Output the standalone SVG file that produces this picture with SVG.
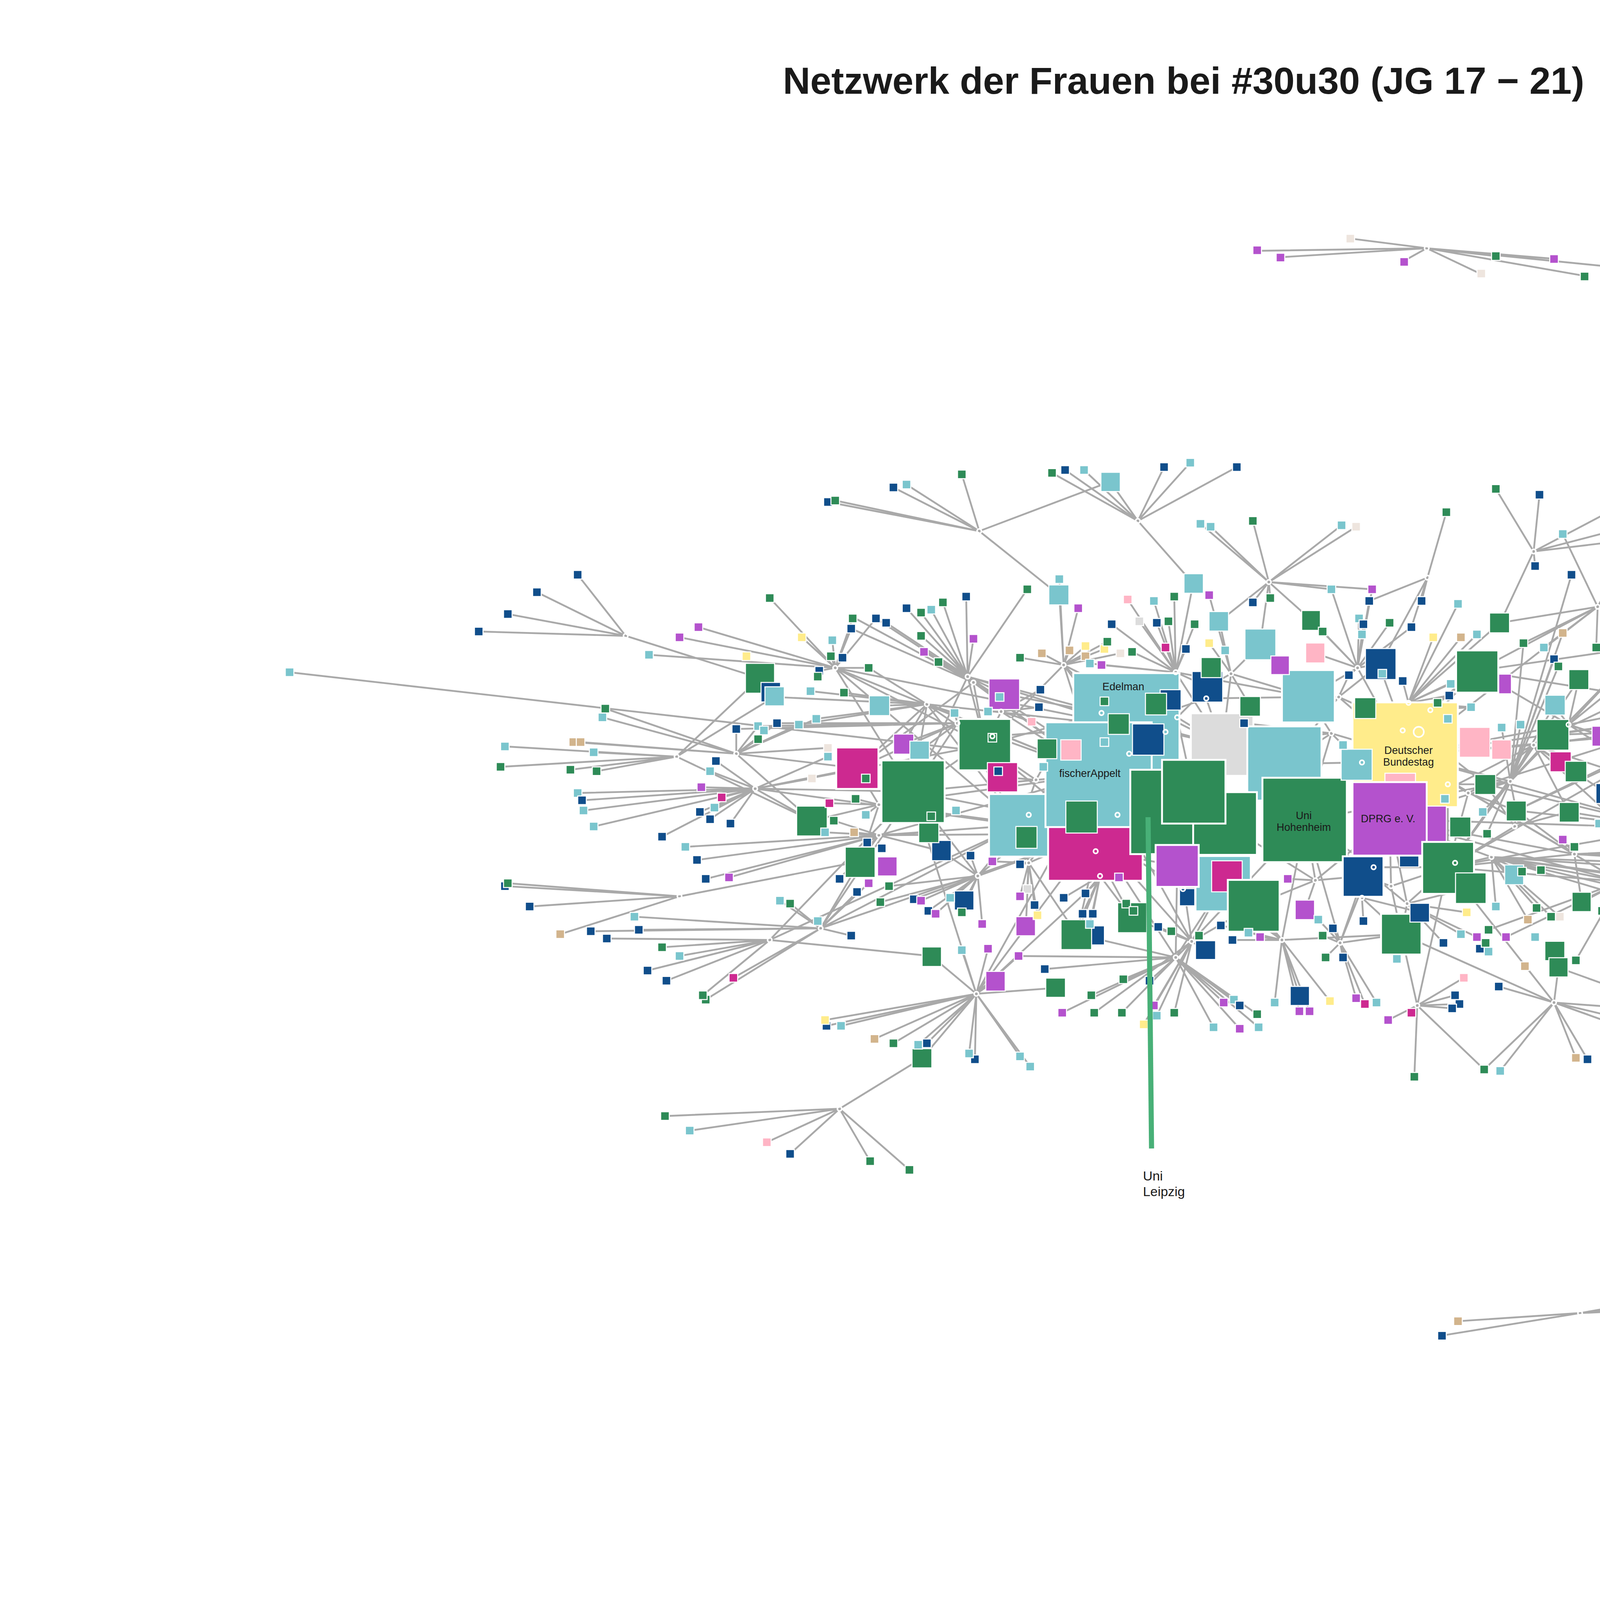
<svg xmlns="http://www.w3.org/2000/svg" xmlns:xlink="http://www.w3.org/1999/xlink" width="5841" height="4132" viewBox="0 0 5841 4132">
<style>
.g{fill:#2E8B57}.t{fill:#7AC5CD}.n{fill:#104E8B}.m{fill:#CD2990}.p{fill:#B452CD}.y{fill:#FFEC8B}.k{fill:#FFB5C5}.r{fill:#DCDCDC}.b{fill:#D2B48C}.s{fill:#EEE5DE}
rect{stroke:#fff;stroke-width:.7}
.L{stroke-width:1.3}
circle{fill:none;stroke:#fff;stroke-width:1.1}
#edges path{fill:none;stroke:#A9A9A9;stroke-width:1.25;stroke-linejoin:round}
text{font-family:"Liberation Sans",Arial,Helvetica,sans-serif;fill:#1A1A1A}
.lb{font-size:7.3px;text-anchor:middle}
</style>
<defs>
<rect id="q" x="-2.95" y="-2.95" width="5.9" height="5.9"/>
<circle id="c" r="1.5"/>
</defs>
<rect width="5841" height="4132" fill="#fff" stroke="none"/>
<text id="title" x="3030" y="240" font-size="97" font-weight="bold" text-anchor="middle">Netzwerk der Frauen bei #30u30 (JG 17 − 21)</text>
<g transform="scale(3.725)">
<g id="edges">
<path d="M980.5 170.6L927.7 163.9 980.5 170.6 863.8 172.4 980.5 170.6 879.5 176.8 980.5 170.6 964.5 179.5 980.5 170.6 1018 188.4 980.5 170.6 1027.8 176 980.5 170.6 1068.3 177.9 980.5 170.6 1089 189.6 980.5 170.6 1114.7 184.1"/>
<path d="M1085.9 902.4L1002.1 908 1085.9 902.4 990.5 917.9 1085.9 902.4 1148.3 894.6 1085.9 902.4 1151.9 899.3 1085.9 902.4 1195.2 883.4"/>
<path d="M430 437L397 395 430 437 369 407 430 437 349 422 430 437 329 434 430 437 522 466"/>
<path d="M574 459L529 411 574 459 551 438 574 459 480 431 574 459 467 438 574 459 446 450 574 459 572 440 574 459 585 432 574 459 586 425 574 459 571 451 574 459 579 452 574 459 563 461 574 459 602 425 574 459 677 512 574 459 627 544 574 459 755 532 574 459 774 499 574 459 597 459 574 459 701 567"/>
<path d="M465 520L347 513 465 520 408 517 465 520 344 527 465 520 392 529 465 520 410 530 465 520 522 466 465 520 532 479 465 520 558 564"/>
<path d="M506 518L416 487 506 518 414 493 506 518 394 510 506 518 399 510 506 518 506 501 506 518 521 499 506 518 589 528 506 518 558 564 506 518 569 514 506 518 549 498 506 518 561 494 506 518 521 508 506 518 534 497"/>
<path d="M519 542L482 541 519 542 496 548 519 542 491 555 519 542 481 558 519 542 488 563 519 542 502 566 519 542 397 545 519 542 400 550 519 542 401 557 519 542 408 568 519 542 492 523 519 542 488 530 519 542 558 535 519 542 589 528 519 542 558 564 519 542 627 544 519 542 455 575 519 542 569 520 519 542 677 512 519 542 701 567"/>
<path d="M199 462L690 518"/>
<path d="M604 553L558 564 604 553 588 549 604 553 570 552 604 553 627 544 604 553 589 528 604 553 701 567 604 553 591 592 604 553 595 560 604 553 755 532 604 553 753 573"/>
<path d="M604 574L573 564 604 574 567 572 604 574 587 572 604 574 591 592 604 574 638 572 604 574 647 585 604 574 701 567 604 574 471 582 604 574 479 591 604 574 485 604 604 574 501 603 604 574 596 579 604 574 577 604 604 574 753 573 604 574 755 532"/>
<path d="M467 616L349 607 467 616 347 609 467 616 364 623 467 616 385 642 467 616 591 592"/>
<path d="M564 638L436 630 564 638 439 639 564 638 406 640 564 638 504 672 564 638 485 687 564 638 591 592 564 638 589 613 564 638 562 633 564 638 585 643 564 638 627 544 564 638 543 621 564 638 536 619 564 638 597 607 564 638 701 567 564 638 753 573"/>
<path d="M529 646L417 645 529 646 455 651 529 646 467 657 529 646 445 667 529 646 458 674 529 646 483 684 529 646 627 544 529 646 640 657 529 646 701 567"/>
<path d="M577 762L457 767 577 762 474 777 577 762 527 785 577 762 543 793 577 762 598 798 577 762 625 804 577 762 634 727"/>
<path d="M671 683L640 657 671 683 684 674 671 683 725 679 671 683 701 726 671 683 708 733 671 683 670 728 671 683 666 724 671 683 637 717 671 683 631 718 671 683 614 717 671 683 634 727 671 683 661 653 671 683 679 652 671 683 755 532 671 683 627 544 671 683 567 701 671 683 578 705 671 683 601 714 671 683 568 705 671 683 700 657 671 683 753 573 671 683 806 558"/>
<path d="M672 602L663 619 672 602 661 627 672 602 653 617 672 602 638 626 672 602 628 618 672 602 611 609 672 602 675 635 672 602 701 567 672 602 753 573 672 602 627 544 672 602 647 585 672 602 667 588 672 602 633 619 672 602 643 628 672 602 605 620 672 602 755 532"/>
<path d="M707 593L701 594 707 593 706 611 707 593 701 616 707 593 711 622 707 593 713 629 707 593 682 592 707 593 701 567 707 593 753 573 707 593 755 532 707 593 740 642 707 593 705 637"/>
<path d="M756 602L731 617 756 602 746 614 756 602 744 628 756 602 751 628 756 602 749 635 756 602 753 573 756 602 740 642 756 602 778 631 756 602 806 558"/>
<path d="M819 647L805 640 819 647 796 637 819 647 824 643 819 647 828 653 819 647 793 691 819 647 795 698 819 647 786 704 819 647 807 696 819 647 771 696 819 647 752 696 819 647 755 532 819 647 806 558 819 647 841 607 819 647 862 622 819 647 753 573 819 647 778 631 819 647 897 564"/>
<path d="M808 658L730 696 808 658 750 684 808 658 718 666 808 658 700 657 808 658 772 673 808 658 790 674 808 658 834 706 808 658 852 707 808 658 865 706 808 658 864 697 808 658 848 687 808 658 852 691 808 658 841 689 808 658 753 573 808 658 809 595 808 658 841 607 808 658 740 642"/>
<path d="M881 646L893 684 881 646 876 689 881 646 893 695 881 646 900 695 881 646 914 688 881 646 839 636 881 646 847 646 881 646 866 644 881 646 858 641 881 646 862 622 881 646 897 564 881 646 963 642 881 646 841 607 881 646 809 595"/>
<path d="M921 648L932 686 921 648 938 690 921 648 946 689 921 648 911 658 921 648 923 658 921 648 916 638 921 648 909 643 921 648 906 632 921 648 937 602 921 648 897 564 921 648 963 642 921 648 955 563"/>
<path d="M904 605L885 604 904 605 897 625 904 605 897 564 904 605 937 602 904 605 862 622 904 605 955 563 904 605 842 566"/>
<path d="M936 617L937 633 936 617 937 602 936 617 963 642 936 617 955 563 936 617 976 627"/>
<path d="M967 621L976 627 967 621 963 642 967 621 995 596 967 621 1011 610 967 621 992 648 967 621 1004 642 967 621 1015 644 967 621 1008 627 967 621 960 659 967 621 955 563 967 621 897 564"/>
<path d="M974 691L954 701 974 691 970 696 974 691 972 740 974 691 1000 684 974 691 1003 690 974 691 998 693 974 691 963 642 974 691 1006 672 974 691 1020 735 974 691 995 596"/>
<path d="M1068 689L1083 727 1068 689 1091 728 1068 689 1138 714 1068 689 1143 716 1068 689 1156 710 1068 689 1031 736 1068 689 1020 735 1068 689 1030 678 1068 689 1071 665 1068 689 1189 698 1068 689 995 596 1068 689 963 642"/>
<path d="M1160 697L1189 698 1160 697 1252 713 1160 697 1200 730 1160 697 1146 747 1160 697 1071 665 1160 697 1156 710"/>
<path d="M1317 626L1424 607 1317 626 1409 625 1317 626 1399 635 1317 626 1383 650 1317 626 1366 662 1317 626 1206 617"/>
<path d="M1114 606L1122 594 1114 606 1118 598 1114 606 1113 622 1114 606 1107 635 1114 606 1087 620 1114 606 1131 610 1114 606 1140 612 1114 606 1206 617 1114 606 995 596 1114 606 1131 626 1114 606 1101 626 1114 606 1083 660 1114 606 1023 639 1114 606 1035 644 1114 606 955 563 1114 606 966 519"/>
<path d="M1082 587L1074 577 1082 587 1082 582 1082 587 1124 589 1082 587 1211 584 1082 587 1245 579 1082 587 1254 589 1082 587 1238 593 1082 587 1211 595 1082 587 1087 620 1082 587 995 596 1082 587 1042 557 1082 587 966 519 1082 587 955 563"/>
<path d="M1025 589L1201 601 1025 589 1191 611 1025 589 1231 628 1025 589 1211 633 1025 589 1204 642 1025 589 1241 597 1025 589 1235 619 1025 589 1046 599 1025 589 1059 598 1025 589 995 596 1025 589 955 563 1025 589 1028 623 1025 589 1056 624 1025 589 1050 632 1025 589 1066 630 1025 589 1072 630"/>
<path d="M1147 569L1258 554 1147 569 1258 562 1147 569 1265 570 1147 569 1255 574 1147 569 1221 575 1147 569 1245 579 1147 569 1143 567 1147 569 1138 572 1147 569 1138 557 1147 569 1121 557 1147 569 1127 555 1147 569 1042 557 1147 569 1078 558 1147 569 995 596 1147 569 1099 566 1147 569 1116 569 1147 569 1117 551 1147 569 1162 540 1147 569 1149 544 1147 569 1162 550 1147 569 1156 550 1147 569 966 519 1147 569 955 563 1147 569 1021 539"/>
<path d="M1183 488L1288 471 1183 488 1282 474 1183 488 1281 486 1183 488 1295 491 1183 488 1292 499 1183 488 1298 500 1183 488 1302 505 1183 488 1303 513 1183 488 1300 521 1183 488 1210 483 1183 488 1197 479 1183 488 1187 475 1183 488 1146 475 1183 488 1144 485 1183 488 1164 481 1183 488 1127 475 1183 488 1218 496 1183 488 1173 460 1183 488 1252 450 1183 488 1269 461 1183 488 1067 505 1183 488 1101 506 1183 488 1015 461 1183 488 966 519 1183 488 1120 464 1183 488 1042 557 1183 488 1021 539"/>
<path d="M1160 502L1187 511 1160 502 1178 498 1160 502 1179 503 1160 502 1221 544 1160 502 1184 530 1160 502 1067 505 1160 502 1101 506 1160 502 1132 512 1160 502 966 519 1160 502 1111 519 1160 502 1146 521 1160 502 1135 528 1160 502 1145 532 1160 502 1164 528 1160 502 1194 524 1160 502 995 596 1160 502 1042 557"/>
<path d="M1222 431L1248 389 1222 431 1278 401 1222 431 1283 403 1222 431 1304 415 1222 431 1311 412 1222 431 1334 435 1222 431 1340 434 1222 431 1234 442 1222 431 1240 463 1222 431 1122 451 1222 431 1067 505 1222 431 1015 461"/>
<path d="M1098 417L1120 377 1098 417 1138 381 1098 417 1156 386 1098 417 1175 393 1098 417 1192 398 1098 417 1216 413 1098 417 1074 367 1098 417 1031 428 1098 417 1015 461 1098 417 1047 442 1098 417 1061 445 1098 417 1097 445 1098 417 966 519"/>
<path d="M1054 379L1028 336 1054 379 1058 340 1054 379 1113 348 1054 379 1146 355 1054 379 1171 365 1054 379 1031 428 1054 379 1055 389"/>
<path d="M1038 537L1080 395 1038 537 1021 539 1038 537 1042 557 1038 537 1067 505 1038 537 966 519 1038 537 995 596 1038 537 1047 442 1038 537 1074 435 1038 537 1122 451 1038 537 1068 453 1038 537 1071 458 1038 537 1085 467 1038 537 1068 485 1038 537 1032 500 1038 537 1045 498 1038 537 1019 558 1038 537 1022 573 1038 537 897 564 1038 537 955 563"/>
<path d="M1054 512L1067 505 1054 512 1072 524 1054 512 1083 530 1054 512 1101 506 1054 512 1021 539 1054 512 966 519 1054 512 1116 569 1054 512 1121 534 1054 512 1104 545 1054 512 1078 558 1054 512 955 563 1054 512 995 596"/>
<path d="M1078 498L1067 505 1078 498 1101 506 1078 498 1068 485 1078 498 1122 451 1078 498 1085 467 1078 498 1144 485 1078 498 1221 544 1078 498 1111 519 1078 498 1120 464 1078 498 966 519 1078 498 1015 461"/>
<path d="M673 365L614 335 673 365 623 333 673 365 661 326 673 365 574 344 673 365 569 345 673 365 763 331 673 365 728 409"/>
<path d="M782 358L723 325 782 358 732 323 782 358 745 323 782 358 763 331 782 358 800 321 782 358 818 318 782 358 850 321 782 358 820 401"/>
<path d="M872 400L825 360 872 400 832 362 872 400 861 358 872 400 922 361 872 400 932 362 872 400 901 426 872 400 861 414 872 400 873 411 872 400 838 427 872 400 866 443 872 400 915 405 872 400 943 405"/>
<path d="M981 397L994 352 981 397 977 413 981 397 949 456 981 397 941 413 981 397 970 431"/>
<path d="M665 465L664 410 665 465 648 414 665 465 640 419 665 465 623 418 665 465 633 421 665 465 609 428 665 465 633 437 665 465 635 448 665 465 645 455 665 465 669 439 665 465 677 512 665 465 690 477 665 465 774 499 665 465 755 532 665 465 627 544 665 465 706 405 665 465 806 558 665 465 840 512"/>
<path d="M669 469L602 425 669 469 586 424 669 469 585 432 669 469 677 512 669 469 755 532 669 469 589 528"/>
<path d="M731 457L716 449 731 457 735 447 731 457 746 444 731 457 759 446 731 457 746 451 731 457 701 452 731 457 728 398 731 457 741 418 731 457 770 449 731 457 761 441 731 457 774 499 731 457 755 532 731 457 677 512 731 457 728 409 731 457 806 558 731 457 840 512"/>
<path d="M808 462L775 412 808 462 793 413 808 462 807 410 808 462 783 427 808 462 795 428 808 462 803 427 808 462 764 429 808 462 821 429 808 462 801 445 808 462 815 446 808 462 778 448 808 462 749 456 808 462 757 457 808 462 774 499 808 462 830 472 808 462 840 512 808 462 789 508 808 462 820 401 808 462 806 558 808 462 899 479"/>
<path d="M846 463L831 409 846 463 831 442 846 463 842 447 846 463 838 427 846 463 830 472 846 463 840 512 846 463 899 479 846 463 859 485 846 463 866 443"/>
<path d="M920 479L899 479 920 479 949 456 920 479 938 487 920 479 966 519 920 479 883 525 920 479 927 464"/>
<path d="M933 459L915 405 933 459 943 405 933 459 941 413 933 459 934 425 933 459 937 429 933 459 936 436 933 459 955 428 933 459 970 431 933 459 927 464 933 459 949 456 933 459 966 519 933 459 899 479 933 459 904 449 933 459 909 434 933 459 901 426"/>
<path d="M968 483L985 438 968 483 1004 438 968 483 1002 415 968 483 1015 436 968 483 964 468 968 483 997 470 968 483 996 478 968 483 988 483 968 483 1011 486 968 483 1015 461 968 483 966 519 968 483 1031 428"/>
<path d="M915 504L883 525 915 504 899 479 915 504 923 512 915 504 966 519 915 504 840 512 915 504 897 564 915 504 855 497"/>
<path d="M637 484L604 485 637 484 656 490 637 484 580 476 637 484 557 475 637 484 561 494 637 484 549 498 637 484 627 544 637 484 677 512 637 484 589 528 637 484 532 479 637 484 597 459 637 484 621 511 637 484 755 532 637 484 774 499 637 484 701 567"/>
<path d="M688 489L679 489 688 489 709 496 688 489 715 474 688 489 714 486 688 489 677 512 688 489 690 477 688 489 755 532 688 489 687 479"/>
<path d="M658 497L627 544 658 497 677 512 658 497 589 528 658 497 621 511 658 497 534 497 658 497 521 499 658 497 506 501 658 497 632 516 658 497 656 490 658 497 755 532 658 497 753 573 658 497 701 567"/>
<path d="M757 490L774 499 757 490 755 532 757 490 677 512 757 490 701 567 757 490 690 477 757 490 759 482"/>
<path d="M809 493L774 499 809 493 755 532 809 493 840 512 809 493 820 544 809 493 830 472"/>
<path d="M801 503L774 499 801 503 806 558 801 503 789 508 801 503 840 512"/>
<path d="M776 518L755 532 776 518 774 499 776 518 806 558 776 518 753 573 776 518 759 510"/>
<path d="M768 560L755 532 768 560 753 573 768 560 806 558 768 560 701 567 768 560 809 595"/>
<path d="M712 536L701 567 712 536 755 532 712 536 677 512 712 536 689 534 712 536 627 544 712 536 717 527"/>
<path d="M707 560L701 567 707 560 755 532 707 560 627 544 707 560 753 573 707 560 743 561 707 560 705 575"/>
<path d="M753 585L753 573 753 585 809 595 753 585 778 631 753 585 740 642 753 585 701 567"/>
<path d="M829 480L830 472 829 480 774 499 829 480 840 512 829 480 899 479"/>
<path d="M964 502L966 519 964 502 955 563 964 502 1015 461 964 502 932 526 964 502 950 463"/>
<path d="M975 503L966 519 975 503 1015 461 975 503 1021 539 975 503 955 563"/>
<path d="M983 488L966 519 983 488 1015 461 983 488 1011 486 983 488 995 494"/>
<path d="M995 539L966 519 995 539 1021 539 995 539 995 596 995 539 955 563 995 539 993 549"/>
<path d="M936 524L932 526 936 524 966 519 936 524 883 525 936 524 955 563"/>
<path d="M944 596L937 602 944 596 955 563 944 596 897 564 944 596 995 596"/>
<path d="M1000 593L995 596 1000 593 955 563 1000 593 966 519 1000 593 1011 610"/>
<path d="M813 611L809 595 813 611 841 607 813 611 842 566 813 611 753 573"/>
<path d="M1009 545L1021 539 1009 545 1042 557 1009 545 966 519 1009 545 995 596"/>
<path d="M1041 568L1042 557 1041 568 1078 558 1041 568 995 596 1041 568 1021 539"/>
<path d="M956 609L937 602 956 609 963 642 956 609 955 563 956 609 995 596"/>
<path d="M682 506L677 512 682 506 627 544 682 506 774 499"/>
</g>
<g id="nodes">
<g id="o1"><rect class="r L" x="818.4" y="490.2" width="43" height="43"/></g>
<g id="o2"><rect class="t L" x="857.2" y="499.2" width="51" height="51"/></g>
<g id="edelman"><rect class="t L" x="737.6" y="462.6" width="73" height="73"/><text class="lb" x="772" y="474.5">Edelman</text></g>
<g id="o3"><rect class="t L" x="679.7" y="545.7" width="43" height="43"/></g>
<g id="o4"><rect class="n" x="731.4" y="566" width="14.5" height="14"/></g>
<g id="o5"><rect class="m L" x="720.3" y="540" width="65" height="65.3"/></g>
<g id="fischerappelt"><rect class="t L" x="718.5" y="496.4" width="73" height="72"/><text class="lb" x="749" y="534">fischerAppelt</text></g>
<g id="o6"><rect class="g L" x="776.8" y="529" width="58" height="58"/></g>
<g id="o7"><rect class="g L" x="820" y="544.4" width="43.8" height="43.1"/></g>
<g id="o8"><rect class="g L" x="798.6" y="522.2" width="43.6" height="43.8"/></g>
<g id="bundestag"><rect class="y L" x="929.5" y="482.7" width="72.4" height="72"/><text class="lb" x="968" y="518.1">Deutscher</text><text class="lb" x="968" y="526.3">Bundestag</text></g>
<g id="o9"><rect class="k" x="951.8" y="531.4" width="21" height="21"/></g>
<g id="o10"><rect class="p" x="966" y="554" width="28" height="28.7"/></g>
<g id="o11"><rect class="n" x="961.8" y="582" width="13.3" height="13.8"/></g>
<g id="hohenheim"><rect class="g L" x="867.6" y="534.5" width="58" height="58"/><text class="lb" x="896" y="563">Uni</text><text class="lb" x="896" y="571.1">Hohenheim</text></g>
<g id="dprg"><rect class="p L" x="929.5" y="537.5" width="51" height="50.5"/><text class="lb" x="954" y="565.2">DPRG e. V.</text></g>
<g id="o12"><rect class="t L" x="881" y="460.5" width="36.3" height="36"/></g>
<g id="o13"><rect class="g L" x="658.8" y="494.1" width="36" height="35.3"/></g>
<g id="o14"><rect class="g L" x="605.8" y="522.6" width="43.4" height="43"/></g>
<g id="o15"><rect class="t L" x="821.6" y="588.3" width="38" height="38"/></g>
<g id="o16"><rect class="p L" x="794.2" y="580.7" width="29.6" height="28.8"/></g>
<g id="o17"><rect class="m" x="832.7" y="591.6" width="21" height="21.3"/></g>
<g id="o18"><rect class="g L" x="843.8" y="604.7" width="35.6" height="35.6"/></g>
<g id="o19"><rect class="g L" x="977.4" y="578.6" width="35.6" height="35.7"/></g>
<g id="o20"><rect class="n L" x="922.8" y="588.5" width="28" height="27.8"/></g>
<g id="o21"><rect class="m L" x="574.7" y="513.7" width="29" height="28.5"/></g>
<g id="o22"><rect class="p" x="1025" y="463.3" width="13.7" height="13.5"/></g>
<g id="o23"><rect class="g L" x="1000.7" y="447" width="29" height="29"/></g>
<g id="o24"><rect class="g L" x="949.1" y="628" width="27.8" height="28"/></g>
<g id="o25"><rect class="k" x="1003" y="499.9" width="21" height="20.5"/></g>
<g id="o26"><rect class="k" x="1025.2" y="508.5" width="13.4" height="13.3"/></g>
<g id="o27"><rect class="n" x="819.3" y="461.5" width="21" height="21"/></g>
<g id="o28"><rect class="g" x="825.5" y="451.9" width="13.8" height="13.8"/></g>
<g id="o29"><rect class="n" x="938.4" y="445.7" width="21" height="21.3"/></g>
<g id="o30"><rect class="n" x="778.3" y="497.5" width="21.6" height="21.5"/></g>
<g id="o31"><rect class="p" x="679.7" y="466.6" width="21" height="21"/></g>
<g id="o32"><rect class="m" x="678.6" y="524.1" width="20.7" height="20.1"/></g>
<g id="o33"><rect class="g" x="732.5" y="550.5" width="21.6" height="22"/></g>
<g id="o34"><rect class="n" x="746" y="636.3" width="13" height="13.1"/></g>
<g id="o35"><rect class="g" x="729.2" y="632.1" width="21" height="20.5"/></g>
<g id="o36"><rect class="g" x="768.1" y="620.4" width="20" height="20.6"/></g>
<g id="o37"><rect class="g" x="1000.3" y="599.9" width="21" height="21"/></g>
<g id="o38"><rect class="g" x="547.5" y="554" width="21" height="20.5"/></g>
<g id="o39"><rect class="g" x="580.9" y="582.2" width="20.5" height="20.8"/></g>
<g id="o40"><rect class="g" x="512.3" y="455.9" width="20" height="20.5"/></g>
<g id="o41"><rect class="t" x="921.7" y="514.9" width="21.3" height="21.3"/></g>
<g id="o42"><rect class="t" x="855.6" y="432.3" width="21.2" height="21.1"/></g>
<g id="o43"><rect class="g" x="1111.9" y="440.2" width="21" height="21"/></g>
<g id="o44"><rect class="g" x="1056.3" y="494.5" width="21.9" height="21"/></g>
<g id="o45"><rect class="g" x="698.2" y="568" width="14.5" height="15"/></g>
<g id="m1"><rect class="t" x="720.8" y="402" width="13.8" height="13.7"/></g>
<g id="m2"><rect class="t" x="813.7" y="394.3" width="13.3" height="13.4"/></g>
<g id="m3"><rect class="t" x="756.6" y="324.6" width="13.3" height="13.2"/></g>
<g id="m4"><rect class="t" x="830.9" y="420.3" width="13.4" height="13.4"/></g>
<g id="m5"><rect class="g" x="894.6" y="419.6" width="12.8" height="13.6"/></g>
<g id="m6"><rect class="k" x="897.3" y="441.9" width="13.2" height="13.7"/></g>
<g id="m7"><rect class="p" x="873.4" y="450.8" width="12.7" height="12.8"/></g>
<g id="m8"><rect class="g" x="852.1" y="478.7" width="14.1" height="13.5"/></g>
<g id="m9"><rect class="g" x="931" y="479.5" width="14.5" height="14.3"/></g>
<g id="m10"><rect class="t" x="597.4" y="478.2" width="14" height="13.6"/></g>
<g id="m11"><rect class="n" x="523" y="469" width="13.4" height="13.4"/></g>
<g id="m12"><rect class="t" x="525.7" y="472" width="13.3" height="13.1"/></g>
<g id="m13"><rect class="p" x="614.1" y="504.5" width="13.9" height="13.8"/></g>
<g id="m14"><rect class="t" x="625.3" y="509.3" width="13.4" height="12.5"/></g>
<g id="m15"><rect class="g" x="712.8" y="507.8" width="13.5" height="13.6"/></g>
<g id="m16"><rect class="k" x="729" y="508.4" width="14" height="14"/></g>
<g id="m17"><rect class="n" x="640.3" y="577.6" width="13.4" height="13.9"/></g>
<g id="m18"><rect class="g" x="631.4" y="565.7" width="13.8" height="13.4"/></g>
<g id="m19"><rect class="p" x="603.1" y="588.9" width="13.4" height="13.1"/></g>
<g id="m20"><rect class="n" x="655.9" y="612.3" width="13.4" height="13.1"/></g>
<g id="m21"><rect class="p" x="698.2" y="630" width="13.4" height="13.1"/></g>
<g id="m22"><rect class="n" x="797.3" y="474" width="14.4" height="14"/></g>
<g id="m23"><rect class="g" x="787.2" y="476.4" width="14.5" height="14.9"/></g>
<g id="m24"><rect class="g" x="761.6" y="490.5" width="14.5" height="14.2"/></g>
<g id="m25"><rect class="g" x="633.7" y="650.8" width="13.3" height="13.4"/></g>
<g id="m26"><rect class="p" x="677.5" y="667.6" width="13.3" height="13.5"/></g>
<g id="m27"><rect class="g" x="718.7" y="672.2" width="13.5" height="13.2"/></g>
<g id="m28"><rect class="g" x="626.8" y="720.7" width="13.6" height="13.2"/></g>
<g id="m29"><rect class="n" x="886.7" y="677.9" width="13.2" height="13.1"/></g>
<g id="m30"><rect class="p" x="890.1" y="618.6" width="13.3" height="13.4"/></g>
<g id="m31"><rect class="n" x="969" y="620.8" width="13.4" height="12.9"/></g>
<g id="m32"><rect class="n" x="821.6" y="646.5" width="13.8" height="12.9"/></g>
<g id="m33"><rect class="g" x="1013.6" y="532.3" width="14.3" height="13.7"/></g>
<g id="m34"><rect class="g" x="1035.2" y="550.5" width="13.7" height="13.7"/></g>
<g id="m35"><rect class="g" x="996.3" y="561.5" width="14.5" height="13.7"/></g>
<g id="m36"><rect class="t" x="1034.1" y="594.4" width="13" height="13.6"/></g>
<g id="m37"><rect class="g" x="1023.7" y="421.3" width="13.7" height="13.6"/></g>
<g id="m38"><rect class="g" x="1078.2" y="460.2" width="13.7" height="13.7"/></g>
<g id="m39"><rect class="t" x="1061.7" y="477.8" width="14" height="13.6"/></g>
<g id="m40"><rect class="p" x="1094.1" y="499.1" width="14.2" height="13.7"/></g>
<g id="m41"><rect class="m" x="1065.3" y="516.7" width="14.5" height="13.7"/></g>
<g id="m42"><rect class="g" x="1075.7" y="523.2" width="14.8" height="14.1"/></g>
<g id="m43"><rect class="t" x="1233.2" y="455.6" width="13.7" height="14"/></g>
<g id="m44"><rect class="g" x="1214.6" y="536.9" width="13.7" height="13.5"/></g>
<g id="m45"><rect class="k" x="1177.6" y="522.7" width="13.7" height="13.7"/></g>
<g id="m46"><rect class="n" x="1096.8" y="538.5" width="14.3" height="13.7"/></g>
<g id="m47"><rect class="g" x="1114.6" y="526.6" width="13.7" height="13.6"/></g>
<g id="m48"><rect class="y" x="1120.1" y="548.4" width="13.7" height="14"/></g>
<g id="m49"><rect class="g" x="1071.6" y="551.5" width="13.7" height="13.5"/></g>
<g id="m50"><rect class="g" x="1061.7" y="646.9" width="13.7" height="13.3"/></g>
<g id="m51"><rect class="g" x="1064.5" y="658.2" width="13.1" height="13.2"/></g>
<g id="m52"><rect class="g" x="1080.4" y="613.2" width="13.1" height="13.3"/></g>
<g id="m53"><rect class="g" x="1100.1" y="628.6" width="13.7" height="13.3"/></g>
<g id="m54"><rect class="g" x="1198.7" y="610" width="13.7" height="13.4"/></g>
<g id="m55"><rect class="n" x="810.6" y="610.7" width="10.5" height="11.8"/></g>
<g id="s1" class="s"><use href="#q" x="928" y="164"/></g>
<g id="s2" class="p"><use href="#q" x="864" y="172"/></g>
<g id="s3" class="p"><use href="#q" x="880" y="177"/></g>
<g id="s4" class="p"><use href="#q" x="965" y="180"/></g>
<g id="s5" class="s"><use href="#q" x="1018" y="188"/></g>
<g id="s6" class="g"><use href="#q" x="1028" y="176"/></g>
<g id="s7" class="p"><use href="#q" x="1068" y="178"/></g>
<g id="s8" class="g"><use href="#q" x="1089" y="190"/></g>
<g id="s9" class="s"><use href="#q" x="1115" y="184"/></g>
<g id="s10" class="b"><use href="#q" x="1002" y="908"/></g>
<g id="s11" class="n"><use href="#q" x="991" y="918"/></g>
<g id="s12" class="n"><use href="#q" x="1148" y="895"/></g>
<g id="s13" class="t"><use href="#q" x="1152" y="899"/></g>
<g id="s14" class="t"><use href="#q" x="1195" y="883"/></g>
<g id="s15" class="n"><use href="#q" x="569" y="345"/></g>
<g id="s16" class="g"><use href="#q" x="574" y="344"/></g>
<g id="s17" class="n"><use href="#q" x="397" y="395"/></g>
<g id="s18" class="n"><use href="#q" x="369" y="407"/></g>
<g id="s19" class="n"><use href="#q" x="349" y="422"/></g>
<g id="s20" class="n"><use href="#q" x="329" y="434"/></g>
<g id="s21" class="g"><use href="#q" x="529" y="411"/></g>
<g id="s22" class="p"><use href="#q" x="480" y="431"/></g>
<g id="s23" class="p"><use href="#q" x="467" y="438"/></g>
<g id="s24" class="t"><use href="#q" x="446" y="450"/></g>
<g id="s25" class="y"><use href="#q" x="513" y="451"/></g>
<g id="s26" class="y"><use href="#q" x="551" y="438"/></g>
<g id="s27" class="t"><use href="#q" x="572" y="440"/></g>
<g id="s28" class="n"><use href="#q" x="585" y="432"/></g>
<g id="s29" class="g"><use href="#q" x="586" y="425"/></g>
<g id="s30" class="n"><use href="#q" x="602" y="425"/></g>
<g id="s31" class="g"><use href="#q" x="571" y="451"/></g>
<g id="s32" class="n"><use href="#q" x="579" y="452"/></g>
<g id="s33" class="n"><use href="#q" x="563" y="461"/></g>
<g id="s34" class="g"><use href="#q" x="562" y="465"/></g>
<g id="s35" class="t"><use href="#q" x="557" y="475"/></g>
<g id="s36" class="g"><use href="#q" x="580" y="476"/></g>
<g id="s37" class="g"><use href="#q" x="597" y="459"/></g>
<g id="s38" class="g"><use href="#q" x="416" y="487"/></g>
<g id="s39" class="t"><use href="#q" x="414" y="493"/></g>
<g id="s40" class="b"><use href="#q" x="394" y="510"/></g>
<g id="s41" class="b"><use href="#q" x="399" y="510"/></g>
<g id="s42" class="t"><use href="#q" x="347" y="513"/></g>
<g id="s43" class="t"><use href="#q" x="408" y="517"/></g>
<g id="s44" class="g"><use href="#q" x="344" y="527"/></g>
<g id="s45" class="g"><use href="#q" x="392" y="529"/></g>
<g id="s46" class="g"><use href="#q" x="410" y="530"/></g>
<g id="s47" class="t"><use href="#q" x="199" y="462"/></g>
<g id="s48" class="n"><use href="#q" x="506" y="501"/></g>
<g id="s49" class="t"><use href="#q" x="521" y="499"/></g>
<g id="s50" class="t"><use href="#q" x="525" y="502"/></g>
<g id="s51" class="g"><use href="#q" x="521" y="508"/></g>
<g id="s52" class="n"><use href="#q" x="534" y="497"/></g>
<g id="s53" class="t"><use href="#q" x="549" y="498"/></g>
<g id="s54" class="t"><use href="#q" x="561" y="494"/></g>
<g id="s55" class="n"><use href="#q" x="492" y="523"/></g>
<g id="s56" class="t"><use href="#q" x="488" y="530"/></g>
<g id="s57" class="s"><use href="#q" x="569" y="514"/></g>
<g id="s58" class="t"><use href="#q" x="569" y="520"/></g>
<g id="s59" class="s"><use href="#q" x="558" y="535"/></g>
<g id="s60" class="p"><use href="#q" x="482" y="541"/></g>
<g id="s61" class="m"><use href="#q" x="496" y="548"/></g>
<g id="s62" class="t"><use href="#q" x="491" y="555"/></g>
<g id="s63" class="n"><use href="#q" x="481" y="558"/></g>
<g id="s64" class="n"><use href="#q" x="488" y="563"/></g>
<g id="s65" class="n"><use href="#q" x="502" y="566"/></g>
<g id="s66" class="t"><use href="#q" x="397" y="545"/></g>
<g id="s67" class="n"><use href="#q" x="400" y="550"/></g>
<g id="s68" class="t"><use href="#q" x="401" y="557"/></g>
<g id="s69" class="t"><use href="#q" x="408" y="568"/></g>
<g id="s70" class="m"><use href="#q" x="570" y="552"/></g>
<g id="s71" class="g"><use href="#q" x="588" y="549"/></g>
<g id="s72" class="t"><use href="#q" x="595" y="560"/></g>
<g id="s73" class="g"><use href="#q" x="573" y="564"/></g>
<g id="s74" class="b"><use href="#q" x="587" y="572"/></g>
<g id="s75" class="t"><use href="#q" x="567" y="572"/></g>
<g id="s76" class="n"><use href="#q" x="455" y="575"/></g>
<g id="s77" class="t"><use href="#q" x="471" y="582"/></g>
<g id="s78" class="n"><use href="#q" x="479" y="591"/></g>
<g id="s79" class="n"><use href="#q" x="485" y="604"/></g>
<g id="s80" class="p"><use href="#q" x="501" y="603"/></g>
<g id="s81" class="n"><use href="#q" x="577" y="604"/></g>
<g id="s82" class="p"><use href="#q" x="597" y="607"/></g>
<g id="s83" class="n"><use href="#q" x="589" y="613"/></g>
<g id="s84" class="n"><use href="#q" x="596" y="579"/></g>
<g id="s85" class="t"><use href="#q" x="536" y="619"/></g>
<g id="s86" class="g"><use href="#q" x="543" y="621"/></g>
<g id="s87" class="n"><use href="#q" x="347" y="609"/></g>
<g id="s88" class="g"><use href="#q" x="349" y="607"/></g>
<g id="s89" class="n"><use href="#q" x="364" y="623"/></g>
<g id="s90" class="t"><use href="#q" x="436" y="630"/></g>
<g id="s91" class="b"><use href="#q" x="385" y="642"/></g>
<g id="s92" class="n"><use href="#q" x="406" y="640"/></g>
<g id="s93" class="n"><use href="#q" x="439" y="639"/></g>
<g id="s94" class="n"><use href="#q" x="417" y="645"/></g>
<g id="s95" class="g"><use href="#q" x="455" y="651"/></g>
<g id="s96" class="t"><use href="#q" x="467" y="657"/></g>
<g id="s97" class="n"><use href="#q" x="445" y="667"/></g>
<g id="s98" class="n"><use href="#q" x="458" y="674"/></g>
<g id="s99" class="m"><use href="#q" x="504" y="672"/></g>
<g id="s100" class="g"><use href="#q" x="485" y="687"/></g>
<g id="s101" class="g"><use href="#q" x="483" y="684"/></g>
<g id="s102" class="t"><use href="#q" x="562" y="633"/></g>
<g id="s103" class="n"><use href="#q" x="585" y="643"/></g>
<g id="s104" class="n"><use href="#q" x="568" y="705"/></g>
<g id="s105" class="y"><use href="#q" x="567" y="701"/></g>
<g id="s106" class="t"><use href="#q" x="578" y="705"/></g>
<g id="s107" class="b"><use href="#q" x="601" y="714"/></g>
<g id="s108" class="g"><use href="#q" x="457" y="767"/></g>
<g id="s109" class="t"><use href="#q" x="474" y="777"/></g>
<g id="s110" class="k"><use href="#q" x="527" y="785"/></g>
<g id="s111" class="n"><use href="#q" x="543" y="793"/></g>
<g id="s112" class="g"><use href="#q" x="598" y="798"/></g>
<g id="s113" class="g"><use href="#q" x="625" y="804"/></g>
<g id="s114" class="g"><use href="#q" x="614" y="717"/></g>
<g id="s115" class="t"><use href="#q" x="631" y="718"/></g>
<g id="s116" class="n"><use href="#q" x="637" y="717"/></g>
<g id="s117" class="t"><use href="#q" x="661" y="653"/></g>
<g id="s118" class="p"><use href="#q" x="675" y="635"/></g>
<g id="s119" class="p"><use href="#q" x="679" y="652"/></g>
<g id="s120" class="p"><use href="#q" x="700" y="657"/></g>
<g id="s121" class="n"><use href="#q" x="718" y="666"/></g>
<g id="s122" class="g"><use href="#q" x="750" y="684"/></g>
<g id="s123" class="p"><use href="#q" x="730" y="696"/></g>
<g id="s124" class="g"><use href="#q" x="752" y="696"/></g>
<g id="s125" class="g"><use href="#q" x="771" y="696"/></g>
<g id="s126" class="g"><use href="#q" x="772" y="673"/></g>
<g id="s127" class="n"><use href="#q" x="790" y="674"/></g>
<g id="s128" class="p"><use href="#q" x="793" y="691"/></g>
<g id="s129" class="t"><use href="#q" x="795" y="698"/></g>
<g id="s130" class="y"><use href="#q" x="786" y="704"/></g>
<g id="s131" class="g"><use href="#q" x="807" y="696"/></g>
<g id="s132" class="t"><use href="#q" x="701" y="726"/></g>
<g id="s133" class="t"><use href="#q" x="708" y="733"/></g>
<g id="s134" class="n"><use href="#q" x="670" y="728"/></g>
<g id="s135" class="t"><use href="#q" x="666" y="724"/></g>
<g id="s136" class="n"><use href="#q" x="796" y="637"/></g>
<g id="s137" class="g"><use href="#q" x="805" y="640"/></g>
<g id="s138" class="g"><use href="#q" x="824" y="643"/></g>
<g id="s139" class="n"><use href="#q" x="839" y="636"/></g>
<g id="s140" class="n"><use href="#q" x="847" y="646"/></g>
<g id="s141" class="p"><use href="#q" x="866" y="644"/></g>
<g id="s142" class="t"><use href="#q" x="858" y="641"/></g>
<g id="s143" class="t"><use href="#q" x="876" y="689"/></g>
<g id="s144" class="y"><use href="#q" x="914" y="688"/></g>
<g id="s145" class="p"><use href="#q" x="932" y="686"/></g>
<g id="s146" class="m"><use href="#q" x="938" y="690"/></g>
<g id="s147" class="t"><use href="#q" x="946" y="689"/></g>
<g id="s148" class="p"><use href="#q" x="893" y="695"/></g>
<g id="s149" class="p"><use href="#q" x="900" y="695"/></g>
<g id="s150" class="p"><use href="#q" x="841" y="689"/></g>
<g id="s151" class="t"><use href="#q" x="848" y="687"/></g>
<g id="s152" class="n"><use href="#q" x="852" y="691"/></g>
<g id="s153" class="g"><use href="#q" x="864" y="697"/></g>
<g id="s154" class="t"><use href="#q" x="834" y="706"/></g>
<g id="s155" class="p"><use href="#q" x="852" y="707"/></g>
<g id="s156" class="t"><use href="#q" x="865" y="706"/></g>
<g id="s157" class="p"><use href="#q" x="954" y="701"/></g>
<g id="s158" class="m"><use href="#q" x="970" y="696"/></g>
<g id="s159" class="g"><use href="#q" x="972" y="740"/></g>
<g id="s160" class="g"><use href="#q" x="1020" y="735"/></g>
<g id="s161" class="k"><use href="#q" x="1006" y="672"/></g>
<g id="s162" class="n"><use href="#q" x="1000" y="684"/></g>
<g id="s163" class="n"><use href="#q" x="1003" y="690"/></g>
<g id="s164" class="n"><use href="#q" x="998" y="693"/></g>
<g id="s165" class="t"><use href="#q" x="960" y="659"/></g>
<g id="s166" class="g"><use href="#q" x="911" y="658"/></g>
<g id="s167" class="n"><use href="#q" x="923" y="658"/></g>
<g id="s168" class="n"><use href="#q" x="992" y="648"/></g>
<g id="s169" class="y"><use href="#q" x="1008" y="627"/></g>
<g id="s170" class="t"><use href="#q" x="1004" y="642"/></g>
<g id="s171" class="p"><use href="#q" x="1015" y="644"/></g>
<g id="s172" class="n"><use href="#q" x="937" y="633"/></g>
<g id="s173" class="n"><use href="#q" x="916" y="638"/></g>
<g id="s174" class="g"><use href="#q" x="909" y="643"/></g>
<g id="s175" class="t"><use href="#q" x="906" y="632"/></g>
<g id="s176" class="p"><use href="#q" x="885" y="604"/></g>
<g id="s177" class="g"><use href="#q" x="611" y="609"/></g>
<g id="s178" class="n"><use href="#q" x="628" y="618"/></g>
<g id="s179" class="p"><use href="#q" x="633" y="619"/></g>
<g id="s180" class="t"><use href="#q" x="653" y="617"/></g>
<g id="s181" class="g"><use href="#q" x="661" y="627"/></g>
<g id="s182" class="n"><use href="#q" x="638" y="626"/></g>
<g id="s183" class="p"><use href="#q" x="643" y="628"/></g>
<g id="s184" class="n"><use href="#q" x="606" y="583"/></g>
<g id="s185" class="n"><use href="#q" x="667" y="588"/></g>
<g id="s186" class="p"><use href="#q" x="682" y="592"/></g>
<g id="s187" class="n"><use href="#q" x="701" y="594"/></g>
<g id="s188" class="r"><use href="#q" x="706" y="611"/></g>
<g id="s189" class="p"><use href="#q" x="701" y="616"/></g>
<g id="s190" class="n"><use href="#q" x="711" y="622"/></g>
<g id="s191" class="y"><use href="#q" x="713" y="629"/></g>
<g id="s192" class="n"><use href="#q" x="731" y="617"/></g>
<g id="s193" class="n"><use href="#q" x="746" y="614"/></g>
<g id="s194" class="n"><use href="#q" x="744" y="628"/></g>
<g id="s195" class="n"><use href="#q" x="751" y="628"/></g>
<g id="s196" class="t"><use href="#q" x="749" y="635"/></g>
<g id="s197" class="g"><use href="#q" x="774" y="621"/></g>
<g id="s198" class="g"><use href="#q" x="779" y="626"/></g>
<g id="s199" class="g"><use href="#q" x="605" y="620"/></g>
<g id="s200" class="t"><use href="#q" x="657" y="557"/></g>
<g id="s201" class="g"><use href="#q" x="640" y="561"/></g>
<g id="s202" class="p"><use href="#q" x="769" y="603"/></g>
<g id="s203" class="g"><use href="#q" x="1028" y="336"/></g>
<g id="s204" class="n"><use href="#q" x="1058" y="340"/></g>
<g id="s205" class="n"><use href="#q" x="1113" y="348"/></g>
<g id="s206" class="n"><use href="#q" x="1146" y="355"/></g>
<g id="s207" class="t"><use href="#q" x="1074" y="367"/></g>
<g id="s208" class="t"><use href="#q" x="1171" y="365"/></g>
<g id="s209" class="n"><use href="#q" x="1055" y="389"/></g>
<g id="s210" class="n"><use href="#q" x="1080" y="395"/></g>
<g id="s211" class="n"><use href="#q" x="1120" y="377"/></g>
<g id="s212" class="t"><use href="#q" x="1138" y="381"/></g>
<g id="s213" class="n"><use href="#q" x="1156" y="386"/></g>
<g id="s214" class="n"><use href="#q" x="1175" y="393"/></g>
<g id="s215" class="n"><use href="#q" x="1192" y="398"/></g>
<g id="s216" class="g"><use href="#q" x="1216" y="413"/></g>
<g id="s217" class="t"><use href="#q" x="1248" y="389"/></g>
<g id="s218" class="n"><use href="#q" x="1278" y="401"/></g>
<g id="s219" class="t"><use href="#q" x="1283" y="403"/></g>
<g id="s220" class="n"><use href="#q" x="1304" y="415"/></g>
<g id="s221" class="m"><use href="#q" x="1311" y="412"/></g>
<g id="s222" class="t"><use href="#q" x="1334" y="435"/></g>
<g id="s223" class="t"><use href="#q" x="1340" y="434"/></g>
<g id="s224" class="r"><use href="#q" x="1234" y="442"/></g>
<g id="s225" class="n"><use href="#q" x="1252" y="450"/></g>
<g id="s226" class="n"><use href="#q" x="1269" y="461"/></g>
<g id="s227" class="r"><use href="#q" x="1173" y="460"/></g>
<g id="s228" class="b"><use href="#q" x="1074" y="435"/></g>
<g id="s229" class="g"><use href="#q" x="1047" y="442"/></g>
<g id="s230" class="t"><use href="#q" x="1061" y="445"/></g>
<g id="s231" class="g"><use href="#q" x="1097" y="445"/></g>
<g id="s232" class="n"><use href="#q" x="1068" y="453"/></g>
<g id="s233" class="g"><use href="#q" x="1071" y="458"/></g>
<g id="s234" class="n"><use href="#q" x="1120" y="464"/></g>
<g id="s235" class="n"><use href="#q" x="1288" y="471"/></g>
<g id="s236" class="n"><use href="#q" x="1282" y="474"/></g>
<g id="s237" class="m"><use href="#q" x="1281" y="486"/></g>
<g id="s238" class="g"><use href="#q" x="1295" y="491"/></g>
<g id="s239" class="n"><use href="#q" x="1298" y="500"/></g>
<g id="s240" class="p"><use href="#q" x="1292" y="499"/></g>
<g id="s241" class="n"><use href="#q" x="1302" y="505"/></g>
<g id="s242" class="g"><use href="#q" x="1303" y="513"/></g>
<g id="s243" class="g"><use href="#q" x="1300" y="521"/></g>
<g id="s244" class="t"><use href="#q" x="1210" y="483"/></g>
<g id="s245" class="g"><use href="#q" x="1197" y="479"/></g>
<g id="s246" class="p"><use href="#q" x="1187" y="475"/></g>
<g id="s247" class="p"><use href="#q" x="1146" y="475"/></g>
<g id="s248" class="p"><use href="#q" x="1144" y="485"/></g>
<g id="s249" class="n"><use href="#q" x="1164" y="481"/></g>
<g id="s250" class="b"><use href="#q" x="1127" y="475"/></g>
<g id="s251" class="g"><use href="#q" x="1218" y="496"/></g>
<g id="s252" class="m"><use href="#q" x="1187" y="511"/></g>
<g id="s253" class="n"><use href="#q" x="1178" y="498"/></g>
<g id="s254" class="g"><use href="#q" x="1179" y="503"/></g>
<g id="s255" class="t"><use href="#q" x="1045" y="498"/></g>
<g id="s256" class="t"><use href="#q" x="1032" y="500"/></g>
<g id="s257" class="t"><use href="#q" x="1132" y="512"/></g>
<g id="s258" class="t"><use href="#q" x="1111" y="519"/></g>
<g id="s259" class="y"><use href="#q" x="1146" y="521"/></g>
<g id="s260" class="n"><use href="#q" x="1135" y="528"/></g>
<g id="s261" class="g"><use href="#q" x="1145" y="532"/></g>
<g id="s262" class="r"><use href="#q" x="1164" y="528"/></g>
<g id="s263" class="n"><use href="#q" x="1194" y="524"/></g>
<g id="s264" class="m"><use href="#q" x="1149" y="544"/></g>
<g id="s265" class="g"><use href="#q" x="1162" y="540"/></g>
<g id="s266" class="r"><use href="#q" x="1162" y="550"/></g>
<g id="s267" class="y"><use href="#q" x="1156" y="550"/></g>
<g id="s268" class="t"><use href="#q" x="1117" y="551"/></g>
<g id="s269" class="p"><use href="#q" x="1121" y="557"/></g>
<g id="s270" class="t"><use href="#q" x="1138" y="557"/></g>
<g id="s271" class="g"><use href="#q" x="1143" y="567"/></g>
<g id="s272" class="n"><use href="#q" x="1138" y="572"/></g>
<g id="s273" class="t"><use href="#q" x="1099" y="566"/></g>
<g id="s274" class="k"><use href="#q" x="1116" y="569"/></g>
<g id="s275" class="p"><use href="#q" x="1074" y="577"/></g>
<g id="s276" class="n"><use href="#q" x="1258" y="554"/></g>
<g id="s277" class="n"><use href="#q" x="1258" y="562"/></g>
<g id="s278" class="m"><use href="#q" x="1265" y="570"/></g>
<g id="s279" class="k"><use href="#q" x="1255" y="574"/></g>
<g id="s280" class="n"><use href="#q" x="1221" y="575"/></g>
<g id="s281" class="g"><use href="#q" x="1245" y="579"/></g>
<g id="s282" class="g"><use href="#q" x="1082" y="582"/></g>
<g id="s283" class="g"><use href="#q" x="1124" y="589"/></g>
<g id="s284" class="t"><use href="#q" x="1122" y="594"/></g>
<g id="s285" class="n"><use href="#q" x="1118" y="598"/></g>
<g id="s286" class="n"><use href="#q" x="1211" y="584"/></g>
<g id="s287" class="m"><use href="#q" x="1254" y="589"/></g>
<g id="s288" class="n"><use href="#q" x="1211" y="595"/></g>
<g id="s289" class="n"><use href="#q" x="1238" y="593"/></g>
<g id="s290" class="y"><use href="#q" x="1241" y="597"/></g>
<g id="s291" class="p"><use href="#q" x="1201" y="601"/></g>
<g id="s292" class="t"><use href="#q" x="1191" y="611"/></g>
<g id="s293" class="n"><use href="#q" x="1235" y="619"/></g>
<g id="s294" class="n"><use href="#q" x="1231" y="628"/></g>
<g id="s295" class="p"><use href="#q" x="1211" y="633"/></g>
<g id="s296" class="y"><use href="#q" x="1204" y="642"/></g>
<g id="s297" class="m"><use href="#q" x="1131" y="610"/></g>
<g id="s298" class="p"><use href="#q" x="1140" y="612"/></g>
<g id="s299" class="y"><use href="#q" x="1113" y="622"/></g>
<g id="s300" class="s"><use href="#q" x="1131" y="626"/></g>
<g id="s301" class="g"><use href="#q" x="1046" y="599"/></g>
<g id="s302" class="g"><use href="#q" x="1059" y="598"/></g>
<g id="s303" class="t"><use href="#q" x="1028" y="623"/></g>
<g id="s304" class="g"><use href="#q" x="1056" y="624"/></g>
<g id="s305" class="b"><use href="#q" x="1050" y="632"/></g>
<g id="s306" class="g"><use href="#q" x="1066" y="630"/></g>
<g id="s307" class="s"><use href="#q" x="1072" y="630"/></g>
<g id="s308" class="g"><use href="#q" x="1023" y="639"/></g>
<g id="s309" class="p"><use href="#q" x="1035" y="644"/></g>
<g id="s310" class="t"><use href="#q" x="1055" y="644"/></g>
<g id="s311" class="g"><use href="#q" x="1083" y="660"/></g>
<g id="s312" class="b"><use href="#q" x="1048" y="664"/></g>
<g id="s313" class="n"><use href="#q" x="1030" y="678"/></g>
<g id="s314" class="t"><use href="#q" x="1023" y="654"/></g>
<g id="s315" class="g"><use href="#q" x="1101" y="626"/></g>
<g id="s316" class="b"><use href="#q" x="1083" y="727"/></g>
<g id="s317" class="n"><use href="#q" x="1091" y="728"/></g>
<g id="s318" class="g"><use href="#q" x="1138" y="714"/></g>
<g id="s319" class="g"><use href="#q" x="1143" y="716"/></g>
<g id="s320" class="n"><use href="#q" x="1156" y="710"/></g>
<g id="s321" class="t"><use href="#q" x="1031" y="736"/></g>
<g id="s322" class="t"><use href="#q" x="1189" y="698"/></g>
<g id="s323" class="g"><use href="#q" x="1252" y="713"/></g>
<g id="s324" class="n"><use href="#q" x="1200" y="730"/></g>
<g id="s325" class="t"><use href="#q" x="1146" y="747"/></g>
<g id="s326" class="s"><use href="#q" x="1424" y="607"/></g>
<g id="s327" class="n"><use href="#q" x="1409" y="625"/></g>
<g id="s328" class="p"><use href="#q" x="1399" y="635"/></g>
<g id="s329" class="n"><use href="#q" x="1383" y="650"/></g>
<g id="s330" class="r"><use href="#q" x="1366" y="662"/></g>
<g id="s331" class="t"><use href="#q" x="1019" y="558"/></g>
<g id="s332" class="g"><use href="#q" x="1022" y="573"/></g>
<g id="s333" class="n"><use href="#q" x="1017" y="652"/></g>
<g id="s334" class="g"><use href="#q" x="1021" y="648"/></g>
<g id="s335" class="n"><use href="#q" x="614" y="335"/></g>
<g id="s336" class="t"><use href="#q" x="623" y="333"/></g>
<g id="s337" class="g"><use href="#q" x="661" y="326"/></g>
<g id="s338" class="g"><use href="#q" x="723" y="325"/></g>
<g id="s339" class="n"><use href="#q" x="732" y="323"/></g>
<g id="s340" class="t"><use href="#q" x="745" y="323"/></g>
<g id="s341" class="n"><use href="#q" x="800" y="321"/></g>
<g id="s342" class="t"><use href="#q" x="818" y="318"/></g>
<g id="s343" class="n"><use href="#q" x="850" y="321"/></g>
<g id="s344" class="t"><use href="#q" x="728" y="398"/></g>
<g id="s345" class="g"><use href="#q" x="706" y="405"/></g>
<g id="s346" class="n"><use href="#q" x="664" y="410"/></g>
<g id="s347" class="g"><use href="#q" x="648" y="414"/></g>
<g id="s348" class="t"><use href="#q" x="640" y="419"/></g>
<g id="s349" class="n"><use href="#q" x="623" y="418"/></g>
<g id="s350" class="g"><use href="#q" x="633" y="421"/></g>
<g id="s351" class="n"><use href="#q" x="609" y="428"/></g>
<g id="s352" class="g"><use href="#q" x="633" y="437"/></g>
<g id="s353" class="p"><use href="#q" x="635" y="448"/></g>
<g id="s354" class="g"><use href="#q" x="645" y="455"/></g>
<g id="s355" class="p"><use href="#q" x="669" y="439"/></g>
<g id="s356" class="p"><use href="#q" x="741" y="418"/></g>
<g id="s357" class="k"><use href="#q" x="775" y="412"/></g>
<g id="s358" class="t"><use href="#q" x="793" y="413"/></g>
<g id="s359" class="g"><use href="#q" x="807" y="410"/></g>
<g id="s360" class="t"><use href="#q" x="825" y="360"/></g>
<g id="s361" class="t"><use href="#q" x="832" y="362"/></g>
<g id="s362" class="g"><use href="#q" x="861" y="358"/></g>
<g id="s363" class="t"><use href="#q" x="922" y="361"/></g>
<g id="s364" class="s"><use href="#q" x="932" y="362"/></g>
<g id="s365" class="g"><use href="#q" x="994" y="352"/></g>
<g id="s366" class="p"><use href="#q" x="831" y="409"/></g>
<g id="s367" class="t"><use href="#q" x="915" y="405"/></g>
<g id="s368" class="p"><use href="#q" x="943" y="405"/></g>
<g id="s369" class="n"><use href="#q" x="941" y="413"/></g>
<g id="s370" class="n"><use href="#q" x="861" y="414"/></g>
<g id="s371" class="g"><use href="#q" x="873" y="411"/></g>
<g id="s372" class="r"><use href="#q" x="783" y="427"/></g>
<g id="s373" class="n"><use href="#q" x="795" y="428"/></g>
<g id="s374" class="g"><use href="#q" x="803" y="427"/></g>
<g id="s375" class="n"><use href="#q" x="764" y="429"/></g>
<g id="s376" class="g"><use href="#q" x="821" y="429"/></g>
<g id="s377" class="m"><use href="#q" x="801" y="445"/></g>
<g id="s378" class="n"><use href="#q" x="815" y="446"/></g>
<g id="s379" class="y"><use href="#q" x="831" y="442"/></g>
<g id="s380" class="t"><use href="#q" x="842" y="447"/></g>
<g id="s381" class="g"><use href="#q" x="909" y="434"/></g>
<g id="s382" class="t"><use href="#q" x="934" y="425"/></g>
<g id="s383" class="n"><use href="#q" x="937" y="429"/></g>
<g id="s384" class="t"><use href="#q" x="936" y="436"/></g>
<g id="s385" class="g"><use href="#q" x="955" y="428"/></g>
<g id="s386" class="n"><use href="#q" x="970" y="431"/></g>
<g id="s387" class="n"><use href="#q" x="977" y="413"/></g>
<g id="s388" class="t"><use href="#q" x="1002" y="415"/></g>
<g id="s389" class="y"><use href="#q" x="985" y="438"/></g>
<g id="s390" class="b"><use href="#q" x="1004" y="438"/></g>
<g id="s391" class="t"><use href="#q" x="1015" y="436"/></g>
<g id="s392" class="b"><use href="#q" x="716" y="449"/></g>
<g id="s393" class="b"><use href="#q" x="735" y="447"/></g>
<g id="s394" class="y"><use href="#q" x="746" y="444"/></g>
<g id="s395" class="b"><use href="#q" x="746" y="451"/></g>
<g id="s396" class="y"><use href="#q" x="759" y="446"/></g>
<g id="s397" class="s"><use href="#q" x="770" y="449"/></g>
<g id="s398" class="g"><use href="#q" x="778" y="448"/></g>
<g id="s399" class="g"><use href="#q" x="761" y="441"/></g>
<g id="s400" class="t"><use href="#q" x="749" y="456"/></g>
<g id="s401" class="p"><use href="#q" x="757" y="457"/></g>
<g id="s402" class="g"><use href="#q" x="701" y="452"/></g>
<g id="s403" class="n"><use href="#q" x="715" y="474"/></g>
<g id="s404" class="n"><use href="#q" x="714" y="486"/></g>
<g id="s405" class="t"><use href="#q" x="656" y="490"/></g>
<g id="s406" class="t"><use href="#q" x="679" y="489"/></g>
<g id="s407" class="k"><use href="#q" x="709" y="496"/></g>
<g id="s408" class="n"><use href="#q" x="927" y="464"/></g>
<g id="s409" class="n"><use href="#q" x="964" y="468"/></g>
<g id="s410" class="t"><use href="#q" x="997" y="470"/></g>
<g id="s411" class="n"><use href="#q" x="996" y="478"/></g>
<g id="s412" class="g"><use href="#q" x="988" y="483"/></g>
<g id="s413" class="t"><use href="#q" x="1011" y="486"/></g>
<g id="s414" class="t"><use href="#q" x="923" y="512"/></g>
<g id="s415" class="n"><use href="#q" x="855" y="497"/></g>
<g id="s416" class="t"><use href="#q" x="687" y="479"/></g>
<g id="s417" class="g"><use href="#q" x="759" y="482"/></g>
<g id="s418" class="t"><use href="#q" x="759" y="510"/></g>
<g id="s419" class="t"><use href="#q" x="717" y="527"/></g>
<g id="s420" class="g"><use href="#q" x="595" y="535"/></g>
<g id="s421" class="n"><use href="#q" x="686" y="530"/></g>
<g id="s422" class="t"><use href="#q" x="995" y="494"/></g>
<g id="s423" class="t"><use href="#q" x="993" y="549"/></g>
<g id="s424" class="t"><use href="#q" x="950" y="463"/></g>
<g id="s425" class="g"><use href="#q" x="682" y="507"/></g>
<g id="h1"><use href="#c" x="980.5" y="170.6"/></g>
<g id="h2"><use href="#c" x="1085.9" y="902.4"/></g>
<g id="h3"><use href="#c" x="430" y="437"/></g>
<g id="h4"><use href="#c" x="574" y="459"/></g>
<g id="h5"><use href="#c" x="465" y="520"/></g>
<g id="h6"><use href="#c" x="506" y="518"/></g>
<g id="h7"><use href="#c" x="519" y="542"/></g>
<g id="h8"><use href="#c" x="604" y="553"/></g>
<g id="h9"><use href="#c" x="604" y="574"/></g>
<g id="h10"><use href="#c" x="467" y="616"/></g>
<g id="h11"><use href="#c" x="564" y="638"/></g>
<g id="h12"><use href="#c" x="529" y="646"/></g>
<g id="h13"><use href="#c" x="577" y="762"/></g>
<g id="h14"><use href="#c" x="671" y="683"/></g>
<g id="h15"><use href="#c" x="672" y="602"/></g>
<g id="h16"><use href="#c" x="707" y="593"/></g>
<g id="h17"><use href="#c" x="756" y="602"/></g>
<g id="h18"><use href="#c" x="819" y="647"/></g>
<g id="h19"><use href="#c" x="808" y="658"/></g>
<g id="h20"><use href="#c" x="881" y="646"/></g>
<g id="h21"><use href="#c" x="921" y="648"/></g>
<g id="h22"><use href="#c" x="904" y="605"/></g>
<g id="h23"><use href="#c" x="936" y="617"/></g>
<g id="h24"><use href="#c" x="967" y="621"/></g>
<g id="h25"><use href="#c" x="974" y="691"/></g>
<g id="h26"><use href="#c" x="1068" y="689"/></g>
<g id="h27"><use href="#c" x="1160" y="697"/></g>
<g id="h28"><use href="#c" x="1317" y="626"/></g>
<g id="h29"><use href="#c" x="1114" y="606"/></g>
<g id="h30"><use href="#c" x="1082" y="587"/></g>
<g id="h31"><use href="#c" x="1025" y="589"/></g>
<g id="h32"><use href="#c" x="1147" y="569"/></g>
<g id="h33"><use href="#c" x="1183" y="488"/></g>
<g id="h34"><use href="#c" x="1160" y="502"/></g>
<g id="h35"><use href="#c" x="1222" y="431"/></g>
<g id="h36"><use href="#c" x="1098" y="417"/></g>
<g id="h37"><use href="#c" x="1054" y="379"/></g>
<g id="h38"><use href="#c" x="1038" y="537"/></g>
<g id="h39"><use href="#c" x="1054" y="512"/></g>
<g id="h40"><use href="#c" x="1078" y="498"/></g>
<g id="h41"><use href="#c" x="673" y="365"/></g>
<g id="h42"><use href="#c" x="782" y="358"/></g>
<g id="h43"><use href="#c" x="872" y="400"/></g>
<g id="h44"><use href="#c" x="981" y="397"/></g>
<g id="h45"><use href="#c" x="665" y="465"/></g>
<g id="h46"><use href="#c" x="669" y="469"/></g>
<g id="h47"><use href="#c" x="731" y="457"/></g>
<g id="h48"><use href="#c" x="808" y="462"/></g>
<g id="h49"><use href="#c" x="846" y="463"/></g>
<g id="h50"><use href="#c" x="920" y="479"/></g>
<g id="h51"><use href="#c" x="933" y="459"/></g>
<g id="h52"><use href="#c" x="968" y="483"/></g>
<g id="h53"><use href="#c" x="915" y="504"/></g>
<g id="h54"><use href="#c" x="637" y="484"/></g>
<g id="h55"><use href="#c" x="688" y="489"/></g>
<g id="h56"><use href="#c" x="658" y="497"/></g>
<g id="h57"><use href="#c" x="757" y="490"/></g>
<g id="h58"><use href="#c" x="809" y="493"/></g>
<g id="h59"><use href="#c" x="801" y="503"/></g>
<g id="h60"><use href="#c" x="776" y="518"/></g>
<g id="h61"><use href="#c" x="768" y="560"/></g>
<g id="h62"><use href="#c" x="712" y="536"/></g>
<g id="h63"><use href="#c" x="707" y="560"/></g>
<g id="h64"><use href="#c" x="753" y="585"/></g>
<g id="h65"><use href="#c" x="829" y="480"/></g>
<g id="h66"><use href="#c" x="964" y="502"/></g>
<g id="h67"><circle cx="975" cy="503" r="3.5"/></g>
<g id="h68"><use href="#c" x="983" y="488"/></g>
<g id="h69"><use href="#c" x="995" y="539"/></g>
<g id="h70"><use href="#c" x="936" y="524"/></g>
<g id="h71"><use href="#c" x="944" y="596"/></g>
<g id="h72"><use href="#c" x="1000" y="593"/></g>
<g id="h73"><use href="#c" x="813" y="611"/></g>
<g id="h74"><use href="#c" x="1009" y="545"/></g>
<g id="h75"><use href="#c" x="1041" y="568"/></g>
<g id="h76"><use href="#c" x="956" y="609"/></g>
<g id="h77"><use href="#c" x="682" y="506"/></g>
<g id="unileipzig"><path d="M789 561.6L791.4 789.3" stroke="#48B077" stroke-width="3.5" fill="none"/><text x="785.5" y="811.3" font-size="9.1">Uni</text><text x="785.5" y="822" font-size="9.1">Leipzig</text></g>
</g>
</g>
</svg>
